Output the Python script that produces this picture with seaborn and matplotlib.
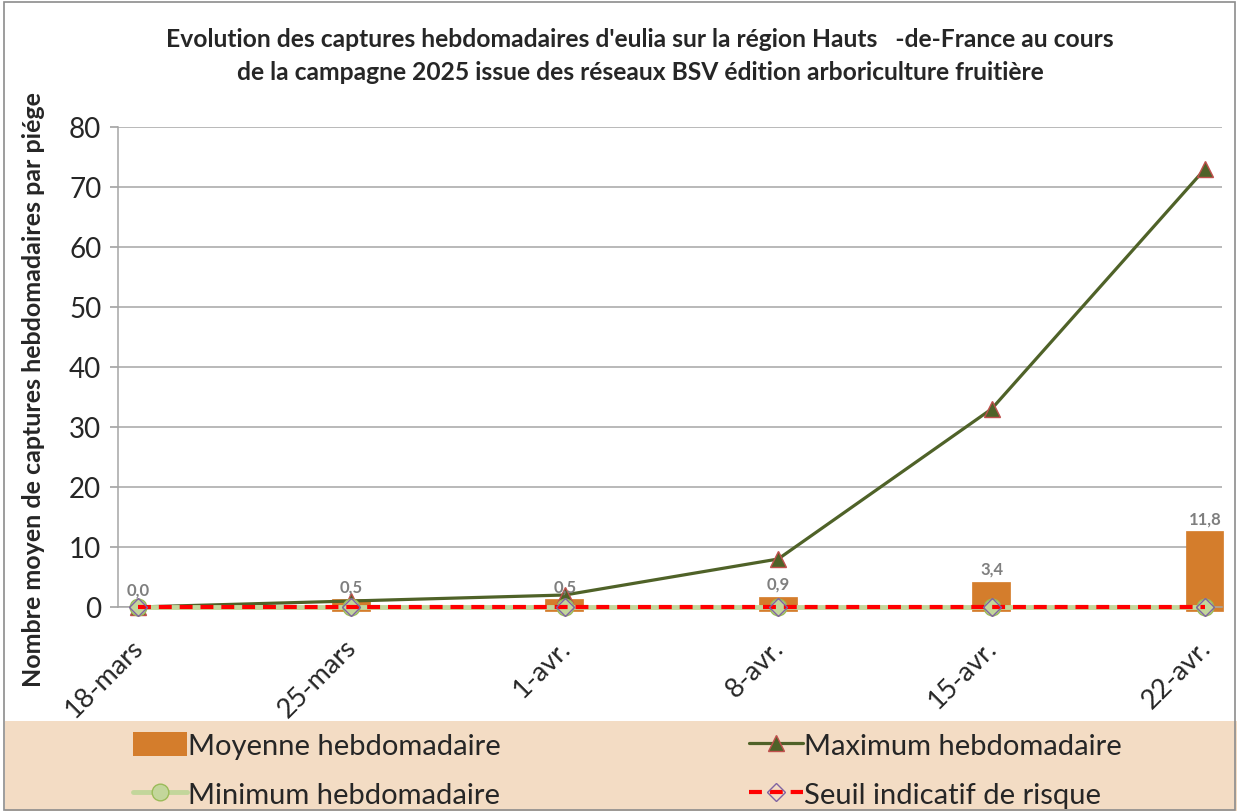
import numpy as np
import matplotlib
matplotlib.use("Agg")
import matplotlib.pyplot as plt
import seaborn as sns
from matplotlib.patches import Rectangle
from matplotlib.transforms import ScaledTranslation

# Données
dates = ["18-mars", "25-mars", "1-avr.", "8-avr.", "15-avr.", "22-avr."]
moyenne = [0.0, 0.5, 0.5, 0.9, 3.4, 11.8]
maximum = [0, 1, 2, 8, 33, 73]
minimum = [0, 0, 0, 0, 0, 0]
seuil = [0, 0, 0, 0, 0, 0]
yticks = [0, 10, 20, 30, 40, 50, 60, 70, 80]

titre = ("Evolution des captures hebdomadaires d'eulia sur la région Hauts   -de-France au cours\n"
         "de la campagne 2025 issue des réseaux BSV édition arboriculture fruitière")
ylabel = "Nombre moyen de captures hebdomadaires par piége"

orange = "#D47D2C"
olive = "#4F6228"
vert_clair = "#C3D69B"
rouge = "#FF0000"

sns.set_theme(style="white")
plt.rcParams["font.family"] = ["Lato", "DejaVu Sans"]

fig = plt.figure(figsize=(12.37, 8.12), dpi=100)
# fond beige de la légende + cadre
fig.patches.append(Rectangle((5 / 1237, 0), 1, 90 / 812, transform=fig.transFigure,
                             facecolor="#F3DCC4", edgecolor="none", zorder=-1))
fig.patches.append(Rectangle((4 / 1237, 1 / 812), 1231 / 1237, 808 / 812, transform=fig.transFigure,
                             facecolor="none", edgecolor="#8C8C8C", lw=1.2, zorder=1))

ax = fig.add_axes([118 / 1237, (812 - 608) / 812, (1222 - 118) / 1237, 480 / 812])
ax.set_facecolor("none")
pos = np.arange(len(dates))

sns.barplot(x=dates, y=moyenne, color=orange, saturation=1, width=0.135,
            linewidth=7, edgecolor=orange, label="Moyenne hebdomadaire", ax=ax, zorder=2)
for p in ax.patches:
    p.set_clip_on(False)
    if p.get_height() == 0:
        p.set_linewidth(0)

sns.lineplot(x=pos, y=maximum, color=olive, linewidth=2.3, marker="^", markersize=11,
             markerfacecolor=olive, markeredgecolor="#C0504D", markeredgewidth=1,
             label="Maximum hebdomadaire", ax=ax, zorder=4, sort=False)
sns.lineplot(x=pos, y=minimum, color=vert_clair, linewidth=3.5, marker="o", markersize=12,
             markerfacecolor=vert_clair, markeredgecolor="#9BBB59", markeredgewidth=1,
             label="Minimum hebdomadaire", ax=ax, zorder=5, sort=False)
sns.lineplot(x=pos, y=seuil, color=rouge, linewidth=3, marker="D", markersize=9,
             markerfacecolor="none", markeredgecolor="#8064A2", markeredgewidth=1,
             label="Seuil indicatif de risque", ax=ax, zorder=6, sort=False)
ax.lines[-1].set_dashes((3.1, 1.9))
for ln in ax.lines:
    ln.set_clip_on(False)

# étiquettes des barres
for i, v in enumerate(moyenne):
    ax.annotate(f"{v:.1f}".replace(".", ","), (i, v), xytext=(0, 7), textcoords="offset points",
                ha="center", va="bottom", fontsize=12, fontweight="bold", color="#7F7F7F", zorder=7)

ax.set_ylim(0, 80)
ax.set_xlim(-0.094, 5.08)
ax.set_yticks(yticks)
ax.set_yticklabels([str(t) for t in yticks])
ax.yaxis.grid(True, color="#A6A6A6", lw=1.1)
ax.xaxis.grid(False)
ax.set_axisbelow(True)
for s in ["top", "right"]:
    ax.spines[s].set_visible(False)
for s in ["left", "bottom"]:
    ax.spines[s].set_color("#A6A6A6")
    ax.spines[s].set_linewidth(1.1)
ax.tick_params(axis="y", left=True, length=6, color="#A6A6A6", labelsize=20, pad=6)
ax.tick_params(axis="x", bottom=False, labelsize=19.5, pad=20)
ax.set_xticks(pos)
ax.set_xticklabels(dates, rotation=45, ha="right", va="center", rotation_mode="anchor")
for lab in ax.get_xticklabels():
    lab.set_transform(lab.get_transform() + ScaledTranslation(1 / 72, 0, fig.dpi_scale_trans))
ax.set_xlabel("")
ax.set_ylabel("")

fig.text(0.027, 0.52, ylabel, rotation=90, ha="center", va="center",
         fontsize=18, fontweight="bold")
fig.text(640 / 1237, 1 - 56 / 812, titre, ha="center", va="center", fontsize=17.7,
         fontweight="bold", linespacing=1.55)

handles, labels = ax.get_legend_handles_labels()
ax.get_legend().remove()
order = [labels.index(l) for l in ["Moyenne hebdomadaire", "Minimum hebdomadaire",
                                   "Maximum hebdomadaire", "Seuil indicatif de risque"]]
leg = fig.legend([handles[i] for i in order], [labels[i] for i in order], ncol=2,
                 loc="center left", bbox_to_anchor=(118 / 1237, 1 - 771 / 812),
                 frameon=False, fontsize=21, borderpad=0, handlelength=1.85, handleheight=0.9,
                 handletextpad=0.05, labelspacing=0.75, columnspacing=8.5)
leg.legend_handles[0].set_linewidth(0)

fig.savefig("out.png", dpi=100)
